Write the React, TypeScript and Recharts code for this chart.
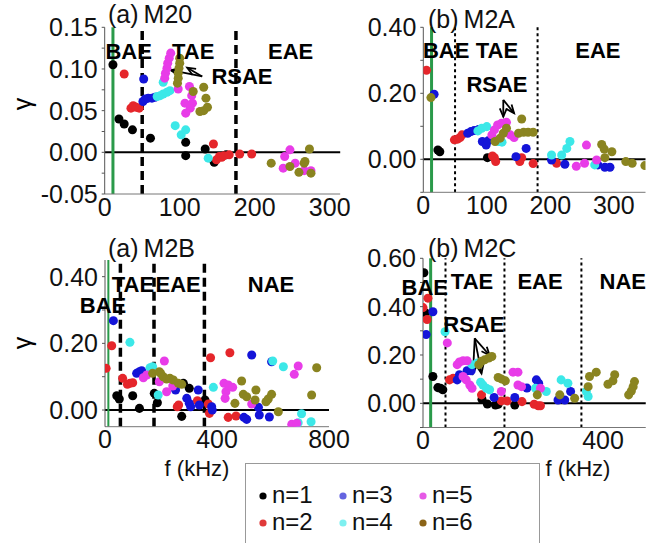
import {
  ReferenceDot,
  ReferenceLine,
  Scatter,
  ScatterChart,
  XAxis,
  YAxis,
  ZAxis,
} from 'recharts';

type Pt = [number, number];

const W = 646;
const H = 543;
const FONT = '"Liberation Sans", Arial, Helvetica, sans-serif';

const seriesNames = ['n=1', 'n=2', 'n=3', 'n=4', 'n=5', 'n=6'];
const dotColors = ['#000000', '#e5262b', '#1414d8', '#3ce8e8', '#e83ce8', '#8a8420'];
const legendColors = ['#000000', '#e03a3a', '#6464e0', '#7ef0f0', '#e65ae6', '#8b6418'];

// (a) M20
const m20n1: Pt[] = [[11, 0.105], [19, 0.04], [26, 0.034], [37, 0.027], [61, 0.017], [108, 0.012], [108, -0.004], [134, 0.004], [146, -0.012], [162, -0.003]];
const m20n2: Pt[] = [[26, 0.094], [35, 0.053], [38, 0.056], [42, 0.054], [46, 0.053], [145, 0.01], [149, -0.009], [153, -0.005], [156, -0.006], [159, -0.004], [166, -0.003], [180, -0.002], [196, -0.002]];
const m20n3: Pt[] = [[52, 0.088], [51, 0.061], [54, 0.064], [58, 0.065], [63, 0.065], [67, 0.066]];
const m20n4: Pt[] = [[78, 0.084], [70, 0.067], [74, 0.068], [78, 0.07], [83, 0.072], [87, 0.074], [94, 0.032], [102, 0.021], [108, 0.027], [138, -0.007]];
const m20n5: Pt[] = [[80, 0.089], [81, 0.095], [83, 0.101], [84, 0.107], [86, 0.113], [88, 0.119], [98, 0.076], [113, 0.079], [116, 0.068], [107, 0.059], [117, 0.059], [114, 0.053], [108, 0.047], [240, -0.005], [247, 0.003], [238, -0.019], [254, -0.013], [266, -0.022], [275, -0.022]];
const m20n6: Pt[] = [[97, 0.083], [98, 0.089], [98, 0.095], [99, 0.101], [100, 0.107], [100, 0.113], [118, 0.073], [132, 0.078], [135, 0.065], [127, 0.049], [132, 0.05], [137, 0.054], [222, -0.013], [247, -0.017], [259, -0.024], [266, -0.013], [267, -0.011], [273, 0.004], [275, -0.025]];

// (b) M2A
const m2an1: Pt[] = [[23, 0.028], [26, 0.023], [101, 0.005]];
const m2an2: Pt[] = [[5, 0.27], [49, 0.059], [54, 0.061], [58, 0.066], [61, 0.074], [109, 0.01], [112, 0.005], [114, -0.007], [152, -0.007], [155, 0.005], [173, -0.013], [210, -0.012]];
const m2an3: Pt[] = [[17, 0.197], [70, 0.079], [75, 0.084], [80, 0.087], [87, 0.09], [93, 0.054], [99, 0.043], [102, 0.056], [146, 0.008], [162, 0.033], [202, -0.002], [223, -0.015], [275, -0.017], [286, -0.024], [294, -0.024]];
const m2an4: Pt[] = [[86, 0.086], [92, 0.094], [100, 0.099], [118, 0.054], [124, 0.052], [202, 0.013], [218, 0.013], [226, 0.033], [231, 0.054], [270, -0.017]];
const m2an5: Pt[] = [[108, 0.074], [112, 0.089], [117, 0.104], [123, 0.109], [131, 0.112], [137, 0.074], [143, 0.066], [241, -0.021], [254, -0.012], [257, 0.043], [273, -0.002]];
const m2an6: Pt[] = [[12, 0.187], [113, 0.054], [121, 0.064], [126, 0.079], [131, 0.094], [155, 0.122], [150, 0.079], [158, 0.082], [165, 0.082], [173, 0.082], [281, 0.045], [285, 0.031], [297, 0.023], [286, 0.005], [319, -0.007], [329, -0.012], [349, -0.019]];

// (a) M2B
const m2bn1: Pt[] = [[42, 0.043], [51, 0.033], [99, 0.043], [123, 0.005], [176, 0.05], [187, 0.022], [274, -0.019], [280, 0.08], [301, 0.065], [357, 0.03]];
const m2bn2: Pt[] = [[4, 0.125], [24, 0.193], [63, 0.095], [80, 0.077], [89, 0.08], [99, 0.082], [258, 0.01], [263, 0.015], [330, 0.028], [369, 0.018], [377, 0.157], [373, -0.01], [446, 0.172], [440, -0.022], [468, -0.018]];
const m2bn3: Pt[] = [[30, 0.268], [113, 0.11], [123, 0.115], [131, 0.118], [252, 0.06], [292, 0.035], [301, 0.02], [306, 0.01], [333, 0.06], [337, 0.015], [381, 0.01], [383, 0], [524, 0.165], [595, 0.145], [496, -0.022], [506, -0.028], [551, -0.015], [587, -0.021], [548, 0.008]];
const m2bn4: Pt[] = [[89, 0.203], [161, 0.127], [170, 0.13], [190, 0.045], [387, 0.068], [599, 0.147], [637, 0.13], [702, -0.011], [690, -0.038], [736, -0.035]];
const m2bn5: Pt[] = [[137, 0.097], [149, 0.105], [212, 0.147], [194, 0.085], [220, 0.055], [242, 0.072], [425, 0.08], [432, 0.055], [440, 0.075], [456, 0.068], [429, 0.035], [524, 0.018], [667, -0.043], [685, -0.04], [690, 0.132], [676, 0.107]];
const m2bn6: Pt[] = [[170, 0.11], [194, 0.115], [199, 0.11], [208, 0.1], [220, 0.093], [232, 0.095], [244, 0.09], [262, 0.08], [274, 0.077], [464, 0.02], [488, 0.087], [494, 0.047], [506, 0.04], [539, 0.06], [536, 0.03], [575, 0.025], [583, 0.033], [595, 0.047], [619, -0.005], [738, 0.045], [756, 0.127]];

// (b) M2C
const m2cn1: Pt[] = [[2, 0.54], [5, 0.375], [22, 0.111], [33, 0.065], [39, 0.0625], [44, 0.056], [131, 0.017], [143, -0.003], [161, -0.007], [167, -0.004], [204, -0.007]];
const m2cn2: Pt[] = [[11, 0.435], [0, 0.396], [9, 0.347], [59, 0.097], [67, 0.104], [130, 0.035], [174, 0.01], [187, 0.01], [220, 0.007], [247, -0.004], [256, -0.01], [261, -0.01]];
const m2cn3: Pt[] = [[22, 0.379], [7, 0.285], [76, 0.097], [81, 0.118], [98, 0.135], [107, 0.135], [158, 0.024], [204, 0.024], [231, 0.063], [252, 0.097], [257, 0.083], [300, 0.014], [315, 0.014], [328, 0.049]];
const m2cn4: Pt[] = [[49, 0.296], [109, 0.16], [121, 0.167], [128, 0.0875], [133, 0.076], [141, 0.0625], [148, 0.056], [250, 0.0625], [274, 0.049], [307, 0.097], [322, 0.083], [363, 0.049], [367, 0.028]];
const m2cn5: Pt[] = [[54, 0.25], [76, 0.16], [81, 0.171], [89, 0.176], [98, 0.176], [89, 0.111], [96, 0.097], [104, 0.076], [109, 0.0625], [174, 0.049], [200, 0.129], [211, 0.129], [211, 0.076], [219, 0.069], [261, 0.0625]];
const m2cn6: Pt[] = [[124, 0.16], [130, 0.174], [137, 0.18], [146, 0.1875], [153, 0.194], [167, 0.107], [174, 0.101], [183, 0.093], [254, 0.035], [304, 0.035], [337, 0.021], [367, 0.069], [370, 0.111], [385, 0.129], [411, 0.079], [422, 0.093], [426, 0.118], [457, 0.035], [463, 0.051], [467, 0.069], [470, 0.09]];

// region text [x, y, text] and arrows [x1, y1, x2, y2], in data units
const m20Labels: [number, number, string][] = [[32, 0.121, 'BAE'], [118, 0.121, 'TAE'], [248, 0.121, 'EAE'], [183, 0.0904, 'RSAE']];
const m2aLabels: [number, number, string][] = [[36, 0.331, 'BAE'], [116, 0.331, 'TAE'], [275, 0.331, 'EAE'], [116, 0.228, 'RSAE']];
const m2bLabels: [number, number, string][] = [[100, 0.378, 'TAE'], [261, 0.378, 'EAE'], [593, 0.378, 'NAE'], [-7, 0.315, 'BAE']];
const m2cLabels: [number, number, string][] = [[4, 0.481, 'BAE'], [109, 0.502, 'TAE'], [260, 0.502, 'EAE'], [444, 0.502, 'NAE'], [113, 0.328, 'RSAE']];

const m20Arrows = [[130, 0.091, 88, 0.0985], [130, 0.091, 110, 0.1015]];
const m2aArrows = [[126, 0.18, 126, 0.129], [126, 0.18, 143, 0.14]];
const m2cArrows = [[115, 0.269, 111, 0.124], [115, 0.269, 130, 0.124], [115, 0.269, 148, 0.199]];

const toPts = (arr: Pt[]) => arr.map(([x, y]) => ({ x, y }));

const panels = [
  {
    id: 'm20',
    series: [m20n1, m20n2, m20n3, m20n4, m20n5, m20n6],
    xDomain: [0, 314], xTicks: [0, 100, 200, 300],
    yDomain: [-0.05, 0.15], yTicks: [-0.05, -0.025, 0, 0.025, 0.05, 0.075, 0.1, 0.125, 0.15], yShown: [-0.05, 0, 0.05, 0.1, 0.15],
    margin: { top: 27.3, right: 305.8, bottom: 319, left: 44.7 },
    green: 11, greenW: 3, bounds: [50, 175], thick: true,
    labels: m20Labels, arrows: m20Arrows,
  },
  {
    id: 'm2a',
    series: [m2an1, m2an2, m2an3, m2an4, m2an5, m2an6],
    xDomain: [0, 350], xTicks: [0, 100, 200, 300],
    yDomain: [-0.1, 0.4], yTicks: [-0.1, 0, 0.1, 0.2, 0.3, 0.4], yShown: [0, 0.2, 0.4],
    margin: { top: 27.3, right: 0.5, bottom: 320.7, left: 363.3 },
    green: 13, greenW: 3, bounds: [50, 180], thick: false,
    labels: m2aLabels, arrows: m2aArrows,
  },
  {
    id: 'm2b',
    series: [m2bn1, m2bn2, m2bn3, m2bn4, m2bn5, m2bn6],
    xDomain: [0, 800], xTicks: [0, 400, 800],
    yDomain: [-0.05, 0.45], yTicks: [0, 0.1, 0.2, 0.3, 0.4], yShown: [0, 0.2, 0.4],
    margin: { top: 260, right: 317, bottom: 86.3, left: 45 },
    green: 12, greenW: 2, bounds: [55, 175, 355], thick: true,
    labels: m2bLabels, arrows: [] as number[][],
  },
  {
    id: 'm2c',
    series: [m2cn1, m2cn2, m2cn3, m2cn4, m2cn5, m2cn6],
    xDomain: [0, 495], xTicks: [0, 200, 400],
    yDomain: [-0.1, 0.6], yTicks: [-0.1, 0, 0.1, 0.2, 0.3, 0.4, 0.5, 0.6], yShown: [0, 0.2, 0.4, 0.6],
    margin: { top: 258.3, right: 0.25, bottom: 85.5, left: 363 },
    green: 17, greenW: 3, bounds: [50, 181, 352], thick: false,
    labels: m2cLabels, arrows: m2cArrows,
  },
];

const tickStyle = { fill: '#111', fontSize: 25, fontFamily: FONT };

function Arrow(props: any) {
  const { x1, y1, x2, y2 } = props;
  const a = Math.atan2(y2 - y1, x2 - x1);
  const len = 9;
  const spread = 0.4;
  const p1 = [x2 - len * Math.cos(a - spread), y2 - len * Math.sin(a - spread)];
  const p2 = [x2 - len * Math.cos(a + spread), y2 - len * Math.sin(a + spread)];
  return (
    <g stroke="#000" strokeWidth={1.8} fill="none">
      <line x1={x1} y1={y1} x2={x2} y2={y2} />
      <polyline points={`${p1[0]},${p1[1]} ${x2},${y2} ${p2[0]},${p2[1]}`} />
    </g>
  );
}

function Panel({ p }: { p: (typeof panels)[number] }) {
  const shown = p.yShown.map((v) => Math.round(v * 1000));
  return (
    <div style={{ position: 'absolute', left: 0, top: 0 }}>
      <ScatterChart width={W} height={H} margin={p.margin}>
        <XAxis
          type="number"
          dataKey="x"
          domain={p.xDomain}
          ticks={p.xTicks}
          interval={0}
          allowDataOverflow
          height={30}
          tickLine={false}
          tickSize={0}
          tickMargin={4}
          axisLine={{ stroke: '#777' }}
          tick={tickStyle}
        />
        <YAxis
          type="number"
          dataKey="y"
          domain={p.yDomain}
          ticks={p.yTicks}
          interval={0}
          allowDataOverflow
          width={60}
          tickSize={3}
          tickMargin={4}
          axisLine={{ stroke: '#555' }}
          tickLine={{ stroke: '#555' }}
          tick={tickStyle}
          tickFormatter={(v: number) => (shown.includes(Math.round(v * 1000)) ? v.toFixed(2) : '')}
        />
        <ZAxis range={[29, 29]} />
        <ReferenceLine y={0} stroke="#000" strokeWidth={2} />
        <ReferenceLine x={p.green} stroke="#2a9a4a" strokeWidth={p.greenW} />
        {p.bounds.map((b) => (
          <ReferenceLine
            key={b}
            x={b}
            stroke="#000"
            strokeWidth={p.thick ? 3.5 : 2}
            strokeDasharray={p.thick ? '9 5' : '3 3'}
          />
        ))}
        {p.series.map((s, i) => (
          <Scatter
            key={seriesNames[i]}
            name={seriesNames[i]}
            data={toPts(s)}
            fill={dotColors[i]}
            isAnimationActive={false}
          />
        ))}
        {p.labels.map(([x, y, t]) => (
          <ReferenceDot
            key={t + x}
            x={x}
            y={y}
            r={0}
            ifOverflow="visible"
            shape={(d: any) => (
              <text
                x={d.cx}
                y={d.cy}
                textAnchor="middle"
                dominantBaseline="central"
                fontFamily={FONT}
                fontWeight="bold"
                fontSize={22}
                fill="#000"
              >
                {t}
              </text>
            )}
          />
        ))}
        {p.arrows.map((a, i) => (
          <ReferenceLine
            key={'ar' + i}
            segment={[{ x: a[0], y: a[1] }, { x: a[2], y: a[3] }]}
            ifOverflow="visible"
            shape={Arrow}
          />
        ))}
      </ScatterChart>
    </div>
  );
}

const titles: [number, number, string][] = [
  [108, 23, '(a)\u2009M20'],
  [428, 28, '(b)\u2009M2A'],
  [108, 257, '(a)\u2009M2B'],
  [428, 257, '(b)\u2009M2C'],
];

export default function App() {
  return (
    <div style={{ position: 'absolute', left: 0, top: 0, width: W, height: H, background: '#fff', fontFamily: FONT }}>
      {panels.map((p) => (
        <Panel key={p.id} p={p} />
      ))}
      <svg width={W} height={H} style={{ position: 'absolute', left: 0, top: 0, pointerEvents: 'none' }}>
        {titles.map(([x, y, t]) => (
          <text key={t} x={x} y={y} fontSize={25} fontFamily={FONT} fill="#111">
            {t}
          </text>
        ))}
        {[104, 343].map((cy) => (
          <text
            key={cy}
            x={22}
            y={cy}
            fontSize={25}
            fontFamily={FONT}
            textAnchor="middle"
            dominantBaseline="central"
            transform={`rotate(-90 22 ${cy})`}
          >
            γ
          </text>
        ))}
        {[197, 578].map((cx) => (
          <text key={cx} x={cx} y={476} fontSize={22} fontFamily={FONT} textAnchor="middle" fill="#111">
            f (kHz)
          </text>
        ))}
        <rect x={245.5} y={463.5} width={294} height={80} fill="none" stroke="#999" strokeWidth={1} />
        {seriesNames.map((n, i) => {
          const col = Math.floor(i / 2);
          const row = i % 2;
          const mx = 263 + col * 80;
          const my = 494 + row * 27;
          return (
            <g key={n}>
              <circle cx={mx} cy={my + 2} r={3.6} fill={legendColors[i]} />
              <text x={mx + 9} y={my} fontSize={24} fontFamily={FONT} dominantBaseline="central" fill="#111">
                {n}
              </text>
            </g>
          );
        })}
      </svg>
    </div>
  );
}
